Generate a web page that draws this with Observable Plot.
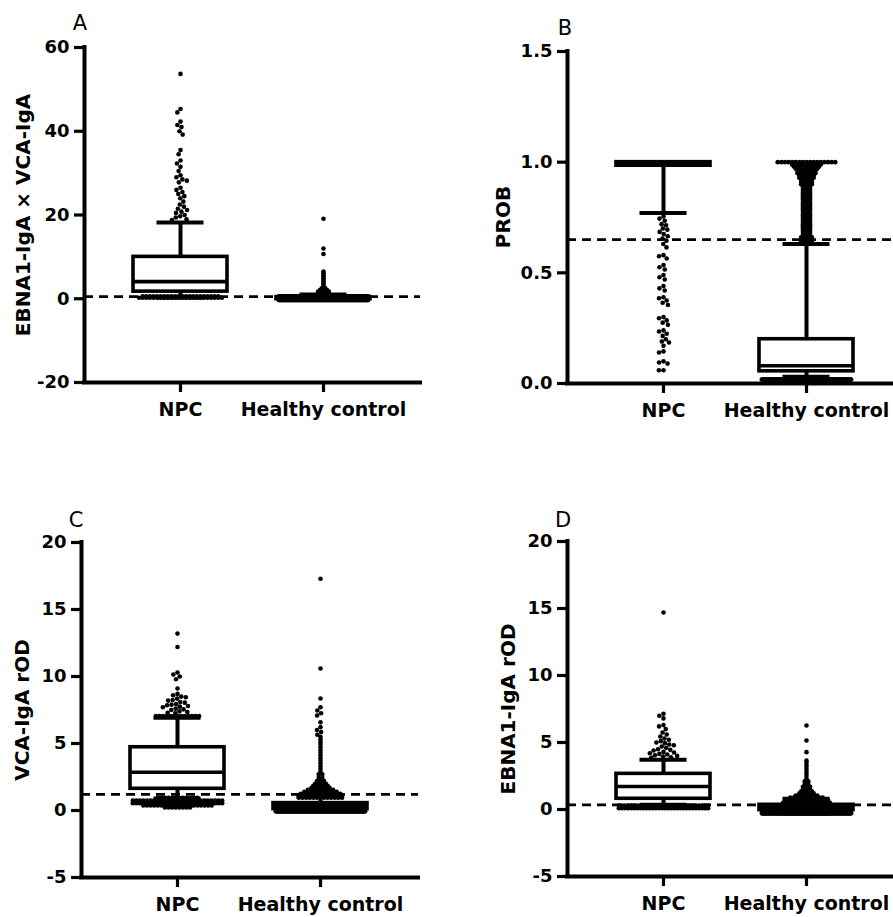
<!DOCTYPE html>
<html><head><meta charset="utf-8">
<script src="https://cdn.jsdelivr.net/npm/d3@7"></script>
<script src="https://cdn.jsdelivr.net/npm/@observablehq/plot@0.6"></script>
<style>
body{margin:0;background:#fff;}
#fig{position:relative;width:893px;height:917px;overflow:hidden;font-family:"DejaVu Sans",sans-serif;color:#000;}
.p{position:absolute;}
.lab{position:absolute;transform:translate(-50%,-50%) rotate(-90deg);white-space:nowrap;font-weight:bold;font-size:20px;line-height:1;}
.let{position:absolute;transform:translate(-50%,-50%);font-size:21px;line-height:1;}
</style></head>
<body><div id="fig"></div>
<script>
const groups = ["NPC", "Healthy control"];

// ---- Panel A: EBNA1-IgA × VCA-IgA ----
const aTitle = "EBNA1-IgA × VCA-IgA";
const aTicks = [-20, 0, 20, 40, 60];
const aCutoff = 0.5;
const aNpcBox = [0.3, 1.7, 4.1, 10.0, 18.2];   // lo whisker, Q1, median, Q3, hi whisker
const aHcBox = [-0.3, -0.1, 0.1, 0.4, 1.0];
const aNpcOut = [53.7, 45.3, 44.5, 42.3, 41.5, 41.0, 40.0, 39.2, 35.5, 34.5, 33.0, 32.3, 31.5, 30.5, 29.5, 29.0, 28.5, 28.2, 27.8, 26.5, 26.0, 25.5, 25.0, 24.5, 24.0, 23.2, 22.5, 22.0, 21.5, 21.2, 20.8, 20.5, 20.0, 19.7, 19.4, 19.0, 18.8];
const aNpcDense = [[0.6, 22], [0.25, 24]];     // [value, count]
const aHcOut = [19.1, 12.0, 10.7];
const aHcDense = [[-0.3, 220], [0.1, 300], [0.5, 240], [1.3, 4], [1.7, 4], [2.1, 3], [2.5, 2], [2.9, 1], [3.3, 1], [3.7, 1], [4.1, 1], [4.5, 1], [4.9, 1], [5.3, 1], [5.7, 1], [6.1, 1], [6.5, 1]];

// ---- Panel B: PROB ----
const bTitle = "PROB";
const bTicks = [0, 0.5, 1.0, 1.5];
const bCutoff = 0.65;
const bNpcBox = [0.77, 0.984, 1.0, 1.0, 1.0];
const bHcBox = [0.03, 0.055, 0.08, 0.20, 0.63];
const bNpcOut = [0.755, 0.745, 0.735, 0.72, 0.715, 0.70, 0.695, 0.685, 0.675, 0.665, 0.655, 0.645, 0.63, 0.615, 0.58, 0.575, 0.565, 0.535, 0.525, 0.515, 0.49, 0.48, 0.47, 0.44, 0.43, 0.42, 0.39, 0.385, 0.375, 0.365, 0.355, 0.30, 0.295, 0.285, 0.275, 0.265, 0.24, 0.235, 0.225, 0.215, 0.20, 0.19, 0.185, 0.17, 0.145, 0.14, 0.10, 0.095, 0.09, 0.06, 0.06];
const bNpcDense = [];
const bHcOut = [];
const bHcDense = [[1.0, 17], [0.99, 9], [0.98, 8], [0.97, 7], [0.96, 6], [0.95, 6], [0.94, 5], [0.93, 5], [0.92, 4], [0.91, 4], [0.90, 4], [0.89, 3], [0.88, 3], [0.87, 3], [0.86, 3], [0.85, 3], [0.84, 3], [0.83, 3], [0.82, 3], [0.81, 3], [0.80, 3], [0.79, 3], [0.78, 3], [0.77, 3], [0.76, 3], [0.75, 3], [0.74, 3], [0.73, 3], [0.72, 3], [0.71, 3], [0.70, 3], [0.69, 3], [0.68, 3], [0.67, 3], [0.66, 4], [0.65, 4], [0.64, 4], [0.018, 120]];

// ---- Panel C: VCA-IgA rOD ----
const cTitle = "VCA-IgA rOD";
const cTicks = [-5, 0, 5, 10, 15, 20];
const cCutoff = 1.2;
const cNpcBox = [0.9, 1.62, 2.86, 4.72, 6.92];
const cHcBox = [0.0, 0.1, 0.25, 0.55, 1.0];
const cNpcOut = [13.2, 12.2, 10.3, 10.15, 10.0, 9.8, 9.1, 8.7, 8.6, 8.5, 8.45, 8.35, 8.25, 8.2, 8.1, 8.05, 7.95, 7.9, 7.85, 7.8, 7.75, 7.7, 7.6, 7.55, 7.5, 7.4, 7.35, 7.3, 7.25];
const cNpcDense = [[7.05, 13], [0.95, 12], [0.75, 26], [0.55, 28], [0.38, 20], [0.22, 8]];
const cHcOut = [17.3, 10.6, 8.36, 7.71, 7.46, 7.26, 7.09, 6.59, 6.22, 6.0, 5.85, 5.65];
const cHcDense = [[-0.05, 200], [0.2, 260], [0.45, 220], [0.95, 13], [1.1, 13], [1.25, 12], [1.4, 10], [1.55, 8], [1.7, 6], [1.85, 5], [2.0, 4], [2.2, 3], [2.45, 2], [2.7, 2], [2.9, 1], [3.1, 1], [3.3, 1], [3.5, 1], [3.7, 1], [3.9, 1], [4.1, 1], [4.3, 1], [4.5, 1], [4.7, 1], [4.9, 1], [5.1, 1], [5.3, 1], [5.5, 1]];

// ---- Panel D: EBNA1-IgA rOD ----
const dTitle = "EBNA1-IgA rOD";
const dTicks = [-5, 0, 5, 10, 15, 20];
const dCutoff = 0.35;
const dNpcBox = [0.35, 0.80, 1.72, 2.66, 3.71];
const dHcBox = [-0.3, -0.05, 0.1, 0.35, 0.8];
const dNpcOut = [14.7, 7.15, 7.0, 6.8, 6.3, 6.2, 6.0, 5.75, 5.6, 5.45, 5.3, 5.2, 5.1, 5.0, 4.95, 4.85, 4.8, 4.7, 4.6, 4.5, 4.45, 4.4, 4.3, 4.25, 4.2, 4.15, 4.1, 4.05, 4.0, 3.95, 3.9, 3.85];
const dNpcDense = [[0.3, 30], [0.1, 30]];
const dHcOut = [6.27, 5.15, 4.28];
const dHcDense = [[-0.28, 200], [-0.03, 260], [0.22, 240], [0.5, 14], [0.7, 13], [0.9, 10], [1.05, 7], [1.2, 5], [1.35, 4], [1.5, 3], [1.7, 3], [1.9, 2], [2.1, 2], [2.3, 1], [2.5, 1], [2.7, 1], [2.9, 1], [3.1, 1], [3.3, 1], [3.5, 1], [3.65, 1]];

// ---------- layout helpers ----------
const R = 2.3;          // dot radius px
const UNIT = 143;       // px between group centres
const OFFL = 96;        // px from y axis to first group
const BOX_W = 94, CAP_W = 47;
const LW = 4;           // axis / whisker line width
const BW = 3.6;         // box outline width

function swarm(values, ppu) {
  const d = 2 * R;
  const pts = values.map(v => ({v, y: -v * ppu})).sort((a, b) => a.y - b.y);
  const placed = [];
  for (const p of pts) {
    const near = placed.filter(q => Math.abs(q.y - p.y) < d);
    const cands = [0];
    for (const q of near) {
      const dx = Math.sqrt(d * d - (q.y - p.y) ** 2);
      cands.push(q.x - dx, q.x + dx);
    }
    cands.sort((a, b) => Math.abs(a) - Math.abs(b) || a - b);
    p.x = 0;
    for (const c of cands) {
      if (near.every(q => (q.x - c) ** 2 + (q.y - p.y) ** 2 >= d * d - 1e-6)) { p.x = c; break; }
    }
    placed.push(p);
  }
  return placed;
}

function rows(bins) {
  const out = [];
  for (const [v, n] of bins) {
    const sp = n > 1 ? Math.min(3.6, (BOX_W - 2 * R) / (n - 1)) : 0;
    for (let k = 0; k < n; k++) out.push({x: (k - (n - 1) / 2) * sp, v});
  }
  return out;
}

function panel(cfg) {
  const {left, top, width, height, mL, mT, mR, mB, domain, ticks, fmt, boxes, sparse, dense, cutoff, title, labX, letter, letX, letY} = cfg;
  const innerW = width - mL - mR, innerH = height - mT - mB;
  const xDom = [-OFFL / UNIT, (innerW - OFFL) / UNIT];
  const ppu = innerH / (domain[1] - domain[0]);
  const hb = BOX_W / 2 / UNIT, hc = CAP_W / 2 / UNIT;
  const boxData = boxes.map((b, i) => ({i, lo: b[0], q1: b[1], med: b[2], q3: b[3], hi: b[4]}));
  const dots = [];
  groups.forEach((g, i) => {
    swarm(sparse[i], ppu).forEach(p => dots.push({x: i + p.x / UNIT, y: p.v}));
    rows(dense[i]).forEach(p => dots.push({x: i + p.x / UNIT, y: p.v}));
  });
  const svg = Plot.plot({
    width, height, marginLeft: mL, marginTop: mT, marginRight: mR, marginBottom: mB,
    x: {domain: xDom},
    y: {domain},
    style: {background: "transparent", overflow: "visible", fontFamily: "DejaVu Sans, sans-serif", color: "black"},
    marks: [
      Plot.ruleX(boxData, {x: "i", y1: "lo", y2: "hi", strokeWidth: LW}),
      Plot.ruleY(boxData, {y: "lo", x1: d => d.i - hc, x2: d => d.i + hc, strokeWidth: LW}),
      Plot.ruleY(boxData, {y: "hi", x1: d => d.i - hc, x2: d => d.i + hc, strokeWidth: LW}),
      Plot.rect(boxData, {x1: d => d.i - hb, x2: d => d.i + hb, y1: "q1", y2: "q3", fill: "white", stroke: "black", strokeWidth: BW}),
      Plot.ruleY(boxData, {y: "med", x1: d => d.i - hb, x2: d => d.i + hb, strokeWidth: BW}),
      Plot.dot(dots, {x: "x", y: "y", r: R, fill: "black", stroke: "none"}),
      Plot.ruleY([cutoff], {strokeWidth: 2.8, strokeDasharray: "9,6"}),
      Plot.axisY({ticks, tickFormat: fmt, tickSize: 10, tickPadding: 5, strokeWidth: 3.2, fontSize: 18, fontWeight: "bold", label: null}),
      Plot.axisX({ticks: [0, 1], tickFormat: i => groups[i], tickSize: 10, tickPadding: 10, strokeWidth: 3.2, fontSize: 19, fontWeight: "bold", label: null}),
      Plot.ruleX([xDom[0]], {strokeWidth: LW, strokeLinecap: "square"}),
      Plot.ruleY([domain[0]], {strokeWidth: LW, strokeLinecap: "square"})
    ]
  });
  const fig = document.getElementById("fig");
  const wrap = document.createElement("div");
  wrap.className = "p";
  wrap.style.left = left + "px";
  wrap.style.top = top + "px";
  wrap.appendChild(svg);
  fig.appendChild(wrap);
  const lab = document.createElement("div");
  lab.className = "lab";
  lab.textContent = title;
  lab.style.left = (left + labX) + "px";
  lab.style.top = (top + mT + innerH / 2) + "px";
  fig.appendChild(lab);
  const let_ = document.createElement("div");
  let_.className = "let";
  let_.textContent = letter;
  let_.style.left = (left + letX) + "px";
  let_.style.top = (top + letY) + "px";
  fig.appendChild(let_);
}

const intFmt = d => String(d);
const decFmt = d => d.toFixed(1);

panel({left: 0, top: 0, width: 446, height: 430, mL: 84, mT: 47, mR: 26, mB: 48,
  domain: [-20, 60], ticks: aTicks, fmt: intFmt, boxes: [aNpcBox, aHcBox],
  sparse: [aNpcOut, aHcOut], dense: [aNpcDense, aHcDense], cutoff: aCutoff,
  title: aTitle, labX: 23, letter: "A", letX: 80, letY: 23});
panel({left: 446, top: 0, width: 447, height: 430, mL: 121, mT: 51, mR: 0, mB: 47,
  domain: [0, 1.5], ticks: bTicks, fmt: decFmt, boxes: [bNpcBox, bHcBox],
  sparse: [bNpcOut, bHcOut], dense: [bNpcDense, bHcDense], cutoff: bCutoff,
  title: bTitle, labX: 57, letter: "B", letX: 119, letY: 28});
panel({left: 0, top: 460, width: 446, height: 457, mL: 81, mT: 82, mR: 28, mB: 40,
  domain: [-5, 20], ticks: cTicks, fmt: intFmt, boxes: [cNpcBox, cHcBox],
  sparse: [cNpcOut, cHcOut], dense: [cNpcDense, cHcDense], cutoff: cCutoff,
  title: cTitle, labX: 22, letter: "C", letX: 76, letY: 60});
panel({left: 446, top: 460, width: 447, height: 457, mL: 121, mT: 81, mR: 0, mB: 41,
  domain: [-5, 20], ticks: dTicks, fmt: intFmt, boxes: [dNpcBox, dHcBox],
  sparse: [dNpcOut, dHcOut], dense: [dNpcDense, dHcDense], cutoff: dCutoff,
  title: dTitle, labX: 62, letter: "D", letX: 117, letY: 60});
</script>
</body></html>
